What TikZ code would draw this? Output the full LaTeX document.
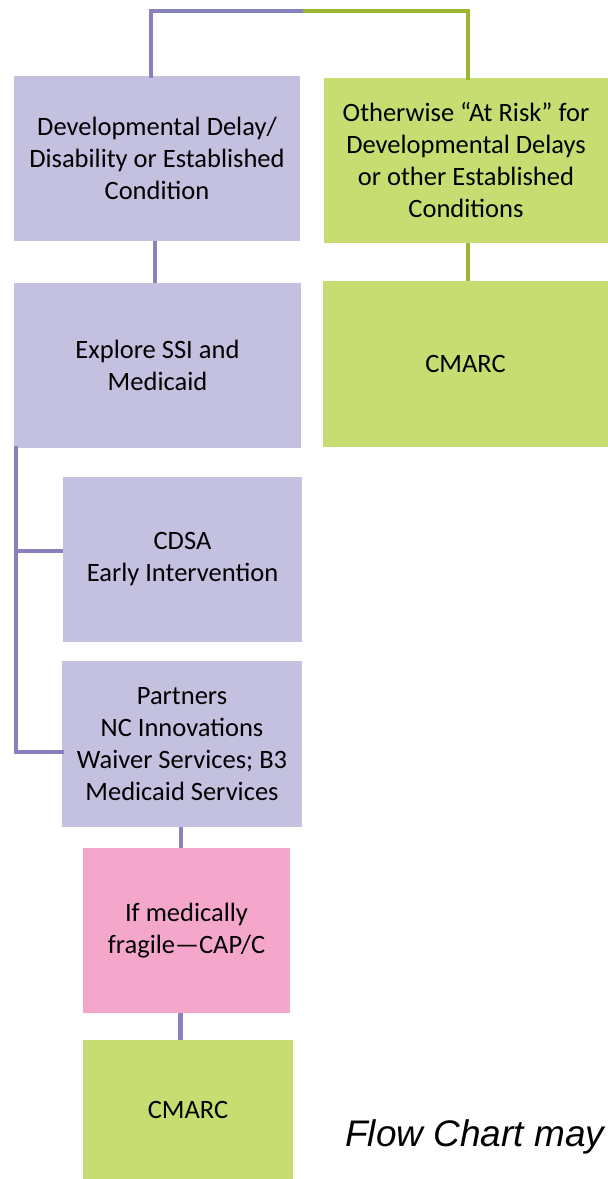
\documentclass[tikz,border=0pt]{standalone}
\usepackage{fontspec}
\setmainfont{Carlito}
\newfontfamily\arialfont{Liberation Sans}
\definecolor{lav}{RGB}{196,193,224}
\definecolor{lavline}{RGB}{135,130,190}
\definecolor{lgreen}{RGB}{199,221,113}
\definecolor{gline}{RGB}{155,182,48}
\definecolor{lpink}{RGB}{245,167,203}
\tikzset{
  box/.style={rectangle, anchor=north west, inner sep=0pt, outer sep=0pt, align=center,
    font=\fontsize{26.5}{32}\selectfont, text=black},
  pbox/.style={box, fill=lav},
  gbox/.style={box, fill=lgreen},
  kbox/.style={box, fill=lpink},
  pline/.style={draw=lavline, line width=4.5pt},
  gline/.style={draw=gline, line width=4.5pt},
}
\begin{document}
\begin{tikzpicture}[x=1pt,y=1pt]
\useasboundingbox (0,0) rectangle (608,-1179);
\node[pbox, minimum width=286pt, minimum height=165pt] (A) at (14,-76) {Developmental Delay/\\Disability or Established\\Condition};
\node[gbox, minimum width=284pt, minimum height=165pt] (B) at (324,-78) {Otherwise “At Risk” for\\Developmental Delays\\or other Established\\Conditions};
\node[pbox, minimum width=287pt, minimum height=165pt] (C) at (14,-283) {Explore SSI and\\Medicaid};
\node[gbox, minimum width=285pt, minimum height=166pt] (D) at (323,-281) {CMARC};
\node[pbox, minimum width=239pt, minimum height=165pt] (E) at (63,-477) {CDSA\\Early Intervention};
\node[pbox, minimum width=240pt, minimum height=166pt] (F) at (62,-661) {Partners\\NC Innovations\\Waiver Services; B3\\Medicaid Services};
\node[kbox, minimum width=207pt, minimum height=165pt] (G) at (83,-848) {If medically\\fragile—CAP/C};
\node[gbox, minimum width=210pt, minimum height=139pt] (H) at (83,-1040) {CMARC};
\node[anchor=base west, inner sep=0pt, font=\arialfont\itshape\fontsize{37}{44}\selectfont] (N) at (345,-1146) {Flow Chart may};
% top connectors
\coordinate (T) at (305,-11);
\draw[pline, line cap=rect] ([xshift=-6pt]A.north) |- (T);
\draw[gline, line cap=rect] (T) -| ([xshift=2pt]B.north);
% vertical connectors
\draw[pline] ([xshift=-2pt]A.south) -- ([xshift=-2pt]A.south |- C.north);
\draw[gline] ([xshift=2pt]B.south) -- ([xshift=2pt]B.south |- D.north);
\coordinate (L1) at (16,-448);
\coordinate (L2) at (16,-752);
\draw[pline, line cap=rect] (L1) -- (L2) -- (L2 -| F.west);
\draw[pline] (16,-551) -- (16,-551 -| E.west);
\draw[pline] ([xshift=-1pt]F.south) -- ([xshift=-1pt]F.south |- G.north);
\draw[pline] ([xshift=-6pt]G.south) -- ([xshift=-6pt]G.south |- H.north);
\end{tikzpicture}
\end{document}
